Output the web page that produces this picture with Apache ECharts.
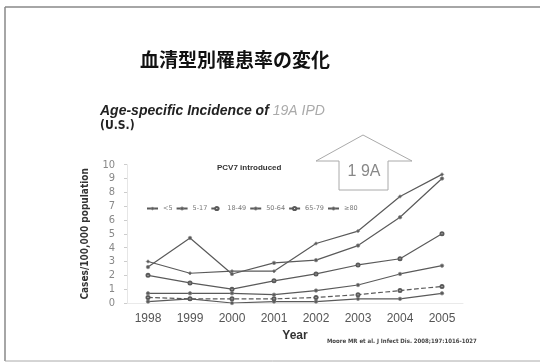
<!DOCTYPE html>
<html><head><meta charset="utf-8">
<script src="https://cdn.jsdelivr.net/npm/echarts@6/dist/echarts.min.js"></script>
<style>html,body{margin:0;padding:0;background:#fff}#c{width:540px;height:363px}</style>
</head><body><div id="c"></div>
<script>
const years = ['1998','1999','2000','2001','2002','2003','2004','2005'];
const yTicks = [0,1,2,3,4,5,6,7,8,9,10];
const seriesNames = ['<5','5-17','18-49','50-64','65-79','≥80'];
const sUnder5 = [3.0, 2.15, 2.3, 2.3, 4.3, 5.2, 7.7, 9.3];
const s5to17 = [0.1, 0.3, 0.0, 0.1, 0.1, 0.3, 0.3, 0.7];
const s18to49 = [0.4, 0.3, 0.3, 0.3, 0.4, 0.6, 0.9, 1.2];
const s50to64 = [0.7, 0.7, 0.7, 0.6, 0.9, 1.3, 2.1, 2.7];
const s65to79 = [2.0, 1.45, 1.0, 1.6, 2.1, 2.75, 3.2, 5.0];
const s80 = [2.6, 4.7, 2.1, 2.9, 3.1, 4.15, 6.2, 9.0];
const seriesData = [sUnder5, s5to17, s18to49, s50to64, s65to79, s80];
const symbols = ['diamond','circle','emptyCircle','circle','emptyCircle','circle'];
const lineTypes = ['solid','solid','dashed','solid','solid','solid'];
const COND = '"DejaVu Sans Condensed", "Liberation Sans", sans-serif';

const chart = echarts.init(document.getElementById('c'));
chart.setOption({
  animation:false,
  backgroundColor:'#fff',
  grid:{left:127, top:164.7, width:336, height:138.3},
  legend:{
    left:141, top:200, itemWidth:11, itemHeight:4, itemGap:3,
    textStyle:{fontSize:6.5, color:'#777', fontFamily:'DejaVu Sans'},
    data:seriesNames.map(n=>({name:n, itemStyle:{borderWidth:0.8}}))
  },
  xAxis:{
    type:'category', data:years, boundaryGap:true,
    axisLine:{show:true, lineStyle:{color:'#e4e4e4', width:0.8}},
    axisTick:{show:false},
    axisLabel:{fontSize:12, color:'#555', margin:10, fontFamily:'Liberation Sans'},
    name:'Year', nameLocation:'middle', nameGap:27,
    nameTextStyle:{fontSize:12, fontWeight:'bold', color:'#333', fontFamily:'Liberation Sans'}
  },
  yAxis:{
    type:'value', min:0, max:10, interval:1,
    splitLine:{show:false},
    axisLine:{show:true, lineStyle:{color:'#e0e0e0', width:0.8}},
    axisTick:{show:true, length:3, lineStyle:{color:'#ccc'}},
    axisLabel:{fontSize:11, color:'#888', margin:12, fontFamily:COND,
      formatter:v=>yTicks.includes(v)?String(v):''},
    name:'Cases/100,000 population', nameLocation:'middle', nameGap:37, nameRotate:90,
    nameTextStyle:{fontSize:10, fontWeight:'bold', color:'#333', fontFamily:COND}
  },
  series: seriesNames.map((n,i)=>({
    name:n, type:'line', data:seriesData[i],
    symbol:symbols[i], symbolSize:symbols[i]==='emptyCircle'?3:3.5,
    lineStyle:{color:'#5a5a5a', width:1.2, type:lineTypes[i]},
    itemStyle:{color:'#5a5a5a', borderColor:'#888', borderWidth:0.7}
  })),
  graphic:[
    {type:'line', shape:{x1:5,y1:7,x2:540,y2:7}, style:{stroke:'#888', lineWidth:1.5}},
    {type:'line', shape:{x1:5,y1:7,x2:5,y2:361}, style:{stroke:'#888', lineWidth:1.5}},
    {type:'line', shape:{x1:5,y1:361,x2:540,y2:361}, style:{stroke:'#aaa', lineWidth:1}},
    {type:'text', left:140, top:50, style:{text:'血清型別罹患率の変化', font:'bold 19px "Noto Sans CJK JP"', fill:'#111'}},
    {type:'text', left:100, top:104, style:{
      text:'{a|Age-specific Incidence of }{b|19A IPD}',
      rich:{a:{font:'italic bold 14px "Liberation Sans"', fill:'#222'},
            b:{font:'italic 14px "Liberation Sans"', fill:'#aaa'}}}},
    {type:'text', left:100, top:120, style:{text:'(U.S.)', font:'bold 12px ' + COND, fill:'#222'}},
    {type:'text', left:217, top:164, style:{text:'PCV7 introduced', font:'bold 8px "Liberation Sans"', fill:'#333'}},
    {type:'polygon', shape:{points:[[363,135],[412,161],[388,161],[388,190],[339,190],[339,161],[316,161]]},
      style:{fill:'#fff', stroke:'#aaa', lineWidth:1}},
    {type:'text', x:364, y:172, style:{text:'1 9A', font:'16px "Liberation Sans"', fill:'#888', align:'center', verticalAlign:'middle'}},
    {type:'text', left:327, top:338, style:{text:'Moore MR et al. J Infect Dis. 2008;197:1016-1027', font:'bold 6px ' + COND, fill:'#444'}}
  ]
});
</script></body></html>
